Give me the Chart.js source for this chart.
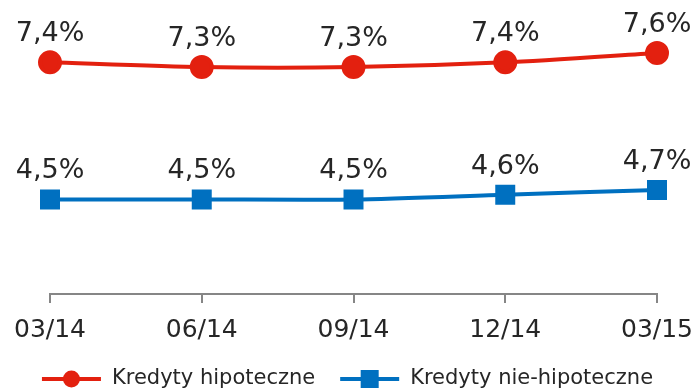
<!DOCTYPE html>
<html lang="pl">
<head>
<meta charset="utf-8">
<title>Kredyty hipoteczne / nie-hipoteczne</title>
<script src="https://cdn.jsdelivr.net/npm/chart.js@4/dist/chart.umd.min.js"></script>
<style>
    html, body { margin: 0; padding: 0; background: #fff; }
    #wrap { width: 695px; height: 392px; }
</style>
</head>
<body>
<div id="wrap"><canvas id="kredytyChart"></canvas></div>
<script>
// Quarter labels and rates (%)
const quarters = ['03/14', '06/14', '09/14', '12/14', '03/15'];
const hipoteczne = [7.4, 7.3, 7.3, 7.4, 7.6];
const nieHipoteczne = [4.5, 4.5, 4.5, 4.6, 4.7];

const RED = '#e3200f';
const BLUE = '#0070c0';
const AXIS = '#868686';
const TEXT = '#262626';
const FONT = '"DejaVu Sans", Verdana, sans-serif';

// Value labels above every point
const valueLabels = {
    id: 'valueLabels',
    afterDatasetsDraw(chart) {
        const ctx = chart.ctx;
        ctx.save();
        ctx.font = '27px ' + FONT;
        ctx.fillStyle = TEXT;
        ctx.textAlign = 'center';
        ctx.textBaseline = 'alphabetic';
        chart.data.datasets.forEach(function(ds, i) {
            const meta = chart.getDatasetMeta(i);
            meta.data.forEach(function(pt, j) {
                const txt = ds.data[j].toFixed(1).replace('.', ',') + '%';
                ctx.fillText(txt, pt.x, pt.y - 21);
            });
        });
        ctx.restore();
    }
};

// Legend row under the axis: line + marker, then the series name
const lineLegend = {
    id: 'lineLegend',
    afterDraw(chart) {
        const ctx = chart.ctx;
        const y = 379;
        const lineLen = 59;
        const textGap = 11;
        const itemGap = 25;
        ctx.save();
        ctx.font = '21px ' + FONT;
        ctx.textBaseline = 'middle';
        ctx.textAlign = 'left';

        const items = chart.data.datasets.map(function(ds) {
            return { ds: ds, w: ctx.measureText(ds.label).width };
        });
        let total = 0;
        items.forEach(function(it, i) {
            total += lineLen + textGap + it.w + (i > 0 ? itemGap : 0);
        });
        let x = (chart.width - total) / 2;

        items.forEach(function(it, i) {
            if (i > 0) x += itemGap;
            const color = it.ds.borderColor;
            ctx.strokeStyle = color;
            ctx.fillStyle = color;
            ctx.lineWidth = 4;
            ctx.beginPath();
            ctx.moveTo(x, y);
            ctx.lineTo(x + lineLen, y);
            ctx.stroke();
            const cx = x + lineLen / 2;
            if (it.ds.pointStyle === 'circle') {
                ctx.beginPath();
                ctx.arc(cx, y, 8.5, 0, Math.PI * 2);
                ctx.fill();
            } else {
                ctx.fillRect(cx - 9, y - 9, 18, 18);
            }
            x += lineLen + textGap;
            ctx.fillStyle = TEXT;
            ctx.fillText(it.ds.label, x, y);
            x += it.w;
        });
        ctx.restore();
    }
};

document.addEventListener('DOMContentLoaded', function() {
    const ctx = document.getElementById('kredytyChart').getContext('2d');

    new Chart(ctx, {
        type: 'line',
        data: {
            labels: quarters,
            datasets: [{
                label: 'Kredyty hipoteczne',
                data: hipoteczne,
                borderColor: RED,
                backgroundColor: RED,
                borderWidth: 4,
                pointStyle: 'circle',
                pointRadius: 10,
                pointHoverRadius: 10,
                tension: 0.25
            }, {
                label: 'Kredyty nie-hipoteczne',
                data: nieHipoteczne,
                borderColor: BLUE,
                backgroundColor: BLUE,
                borderWidth: 4,
                pointStyle: 'rect',
                pointRadius: 11.3,
                pointHoverRadius: 11.3,
                tension: 0.25
            }]
        },
        options: {
            responsive: true,
            maintainAspectRatio: false,
            animation: false,
            layout: {
                padding: { left: 50, right: 38, top: 34, bottom: 0 }
            },
            scales: {
                x: {
                    offset: false,
                    grid: {
                        display: true,
                        drawOnChartArea: false,
                        drawTicks: true,
                        tickLength: 9,
                        color: AXIS,
                        lineWidth: 2
                    },
                    border: { display: true, color: AXIS, width: 2 },
                    ticks: {
                        color: TEXT,
                        font: { family: FONT, size: 25 },
                        padding: 12,
                        maxRotation: 0
                    },
                    // fixed axis band: room for labels and the legend row
                    afterFit: function(scale) {
                        scale.paddingLeft = 0;
                        scale.paddingRight = 0;
                        scale.height = 98;
                    }
                },
                y: {
                    display: false,
                    min: 2.5,
                    max: 8.0
                }
            },
            plugins: {
                legend: { display: false },
                tooltip: { enabled: false }
            }
        },
        plugins: [valueLabels, lineLegend]
    });
});
</script>
</body>
</html>
